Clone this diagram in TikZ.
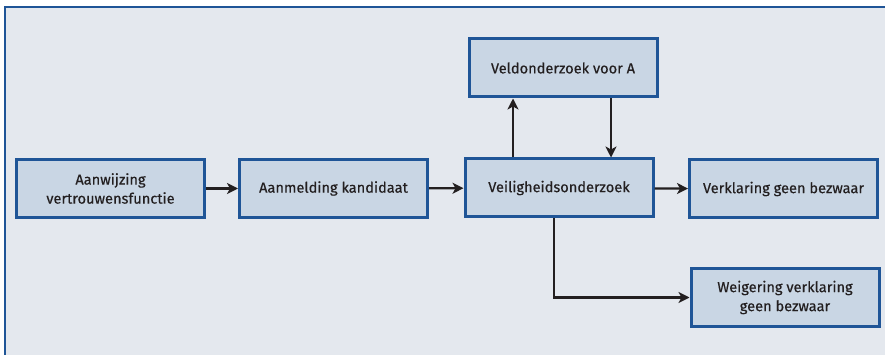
\documentclass[tikz,border=0pt]{standalone}
\usepackage{fontspec}
\setmainfont{Fira Sans}[FakeBold=0.4]
\usetikzlibrary{arrows.meta}
\definecolor{bg}{HTML}{E4E8EE}
\definecolor{boxfill}{HTML}{C9D6E4}
\definecolor{boxline}{HTML}{1F5597}
\definecolor{ink}{HTML}{231F20}
\begin{document}
\begin{tikzpicture}[x=1pt,y=-1pt,
  stepbox/.style={draw=boxline,fill=boxfill,line width=3pt,minimum width=188pt,minimum height=58pt,inner sep=0pt,align=center,text=ink,font=\fontsize{14.6}{19}\selectfont},
  conn/.style={draw=ink,line width=2.2pt,-{Stealth[length=11pt,width=11pt,inset=3pt]}}]
\useasboundingbox (0,0) rectangle (885,355);
\fill[white] (0,0) rectangle (885,355);
\fill[bg] (4,7) rectangle (895,365);
\draw[boxline,line width=2pt] (4.5,365) -- (4.5,7.5) -- (895,7.5);
\node[stepbox] (a) at (110.5,188.5) {Aanwijzing\\vertrouwensfunctie};
\node[stepbox] (b) at (333.5,188.5) {Aanmelding kandidaat};
\node[stepbox] (c) at (559,188) {Veiligheidsonderzoek};
\node[stepbox] (d) at (563,68) {Veldonderzoek voor A};
\node[stepbox] (e) at (783.5,189) {Verklaring geen bezwaar};
\node[stepbox] (f) at (785,297.5) {Weigering verklaring\\geen bezwaar};
\draw[conn] (a) -- (b);
\draw[conn] (b) -- (c);
\draw[conn] (c) -- (e);
\draw[conn] (c.north -| 513,0) -- (d.south -| 513,0);
\draw[conn] (d.south -| 611,0) -- (c.north -| 611,0);
\draw[conn] (c.south -| 554,0) |- (f.west);
\end{tikzpicture}
\end{document}
